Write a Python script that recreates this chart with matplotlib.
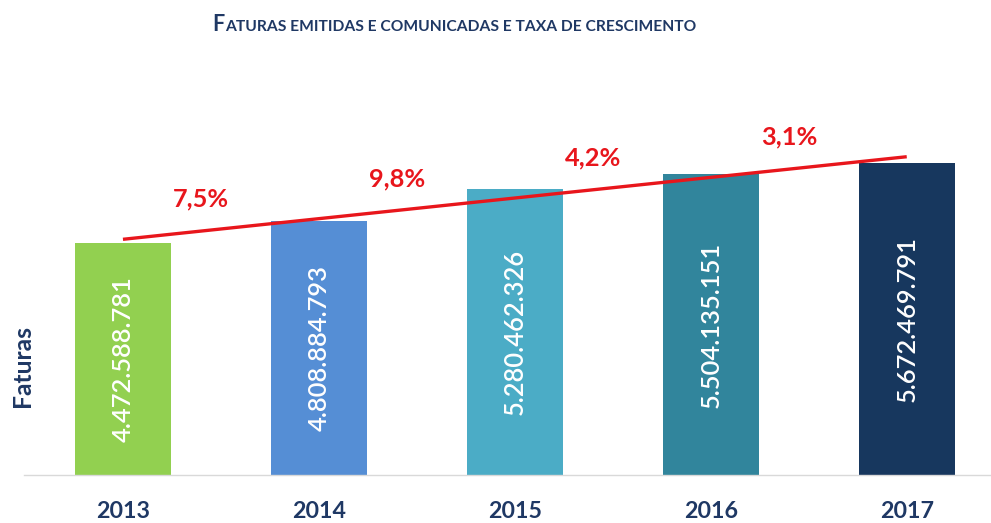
import numpy as np
import matplotlib
matplotlib.use("Agg")
import matplotlib.pyplot as plt

# ---- data ----
years = ["2013", "2014", "2015", "2016", "2017"]
faturas = [4472588781, 4808884793, 5280462326, 5504135151, 5672469791]
growth_labels = ["7,5%", "9,8%", "4,2%", "3,1%"]
value_labels = ["4.472.588.781", "4.808.884.793", "5.280.462.326", "5.504.135.151", "5.672.469.791"]
bar_colors = ["#92D050", "#558ED5", "#4BACC6", "#31859C", "#17375E"]

NAVY = "#1F3864"
RED = "#E8161C"
FONT = "Lato"

W, H = 991, 523
fig = plt.figure(figsize=(W / 100, H / 100), dpi=100)
fig.patch.set_facecolor("white")

# axes placed in pixel coordinates
left_px, right_px, bottom_px, top_px = 24, 991, 475, 60
ax = fig.add_axes([left_px / W, (H - bottom_px) / H, (right_px - left_px) / W, (bottom_px - top_px) / H])

x = np.arange(len(years))
ymin = 0.995e9
ymax = ymin + (bottom_px - top_px) / 66.7 * 1e9
ax.set_ylim(ymin, ymax)
ax.set_xlim(-0.505, 4.43)

ax.bar(x, faturas, width=0.49, color=bar_colors, bottom=0, zorder=2)

# trend line (linear fit)
coef = np.polyfit(x, faturas, 1)
trend = np.poly1d(coef)
ax.plot([x[0], x[-1]], [trend(x[0]), trend(x[-1])], color=RED, lw=2.4, zorder=3,
        solid_capstyle="butt")

for sp in ["top", "right", "left"]:
    ax.spines[sp].set_visible(False)
ax.spines["bottom"].set_color("#D9D9D9")
ax.spines["bottom"].set_linewidth(1.0)
ax.set_yticks([])
ax.set_xticks(x)
ax.set_xticklabels(years, fontfamily=FONT, fontweight="bold", fontsize=17, color=NAVY)
ax.tick_params(axis="x", length=0, pad=19)

fig.canvas.draw()
renderer = fig.canvas.get_renderer()


def fit(t, target, horizontal=True):
    fig.canvas.draw()
    bb = t.get_window_extent(renderer)
    cur = bb.width if horizontal else bb.height
    t.set_fontsize(t.get_fontsize() * target / cur)


# value labels inside bars
for i, v in enumerate(faturas):
    t = ax.text(x[i], (ymin + v) / 2, value_labels[i], rotation=90, ha="center", va="center",
                color="white", fontfamily=FONT, fontweight="semibold", fontsize=20, zorder=4)
    fit(t, 166, horizontal=False)

# growth labels
for i, lab in enumerate(growth_labels):
    xi = x[i] + 0.4
    t = ax.annotate(lab, (xi, trend(xi)), xytext=(0, 23), textcoords="offset points",
                    ha="center", va="center", color=RED, fontfamily=FONT, fontweight="bold",
                    fontsize=17, zorder=4)
    fit(t, 56)

# y label
t = fig.text(22 / W, 1 - 366 / H, "Faturas", rotation=90, ha="center", va="center",
             color=NAVY, fontfamily=FONT, fontweight="bold", fontsize=17)
fit(t, 82, horizontal=False)

# year labels width fit
for tl in ax.get_xticklabels():
    fit(tl, 54)

# title in small caps style
tF = fig.text(212 / W, 1 - 31 / H, "F", ha="left", va="baseline", color=NAVY,
              fontfamily=FONT, fontweight="bold", fontsize=15.5)
fig.canvas.draw()
bbF = tF.get_window_extent(renderer)
rest = fig.text(bbF.x1 / W + 1 / W, 1 - 31 / H, "ATURAS EMITIDAS E COMUNICADAS E TAXA DE CRESCIMENTO",
                ha="left", va="baseline", color=NAVY, fontfamily=FONT, fontweight="bold", fontsize=10.5)
fit(rest, 695 - bbF.x1 - 1)

fig.savefig("out.png", dpi=100, facecolor="white")
